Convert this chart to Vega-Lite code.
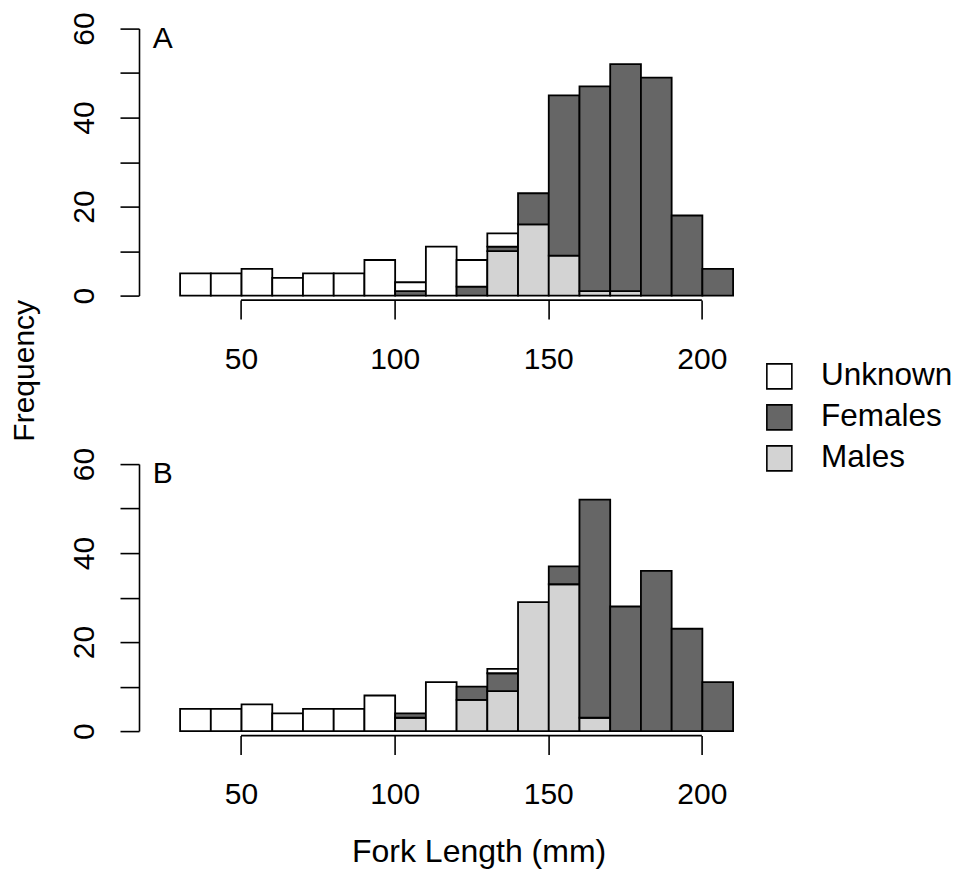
{
  "$schema": "https://vega.github.io/schema/vega-lite/v6.json",
  "padding": {"left": 8.6, "top": 11.6, "right": 2, "bottom": 2},
  "bounds": "flush",
  "spacing": 168.5,
  "background": "white",
  "config": {
    "font": "Liberation Sans",
    "view": {"stroke": null},
    "axis": {
      "grid": false,
      "domainColor": "black",
      "domainWidth": 1.6,
      "tickColor": "black",
      "tickWidth": 1.6,
      "tickSize": 19,
      "labelColor": "black",
      "labelFontSize": 30,
      "labelFont": "Liberation Sans",
      "titleFont": "Liberation Sans",
      "titleFontSize": 30,
      "titleFontWeight": "normal",
      "titleColor": "black",
      "labelFlush": false,
      "labelOverlap": false
    }
  },
  "datasets": {
    "hist": [
      {"panel": "A", "lo": 30, "hi": 40, "sex": "Unknown", "n": 5},
      {"panel": "A", "lo": 40, "hi": 50, "sex": "Unknown", "n": 5},
      {"panel": "A", "lo": 50, "hi": 60, "sex": "Unknown", "n": 6},
      {"panel": "A", "lo": 60, "hi": 70, "sex": "Unknown", "n": 4},
      {"panel": "A", "lo": 70, "hi": 80, "sex": "Unknown", "n": 5},
      {"panel": "A", "lo": 80, "hi": 90, "sex": "Unknown", "n": 5},
      {"panel": "A", "lo": 90, "hi": 100, "sex": "Unknown", "n": 8},
      {"panel": "A", "lo": 100, "hi": 110, "sex": "Females", "n": 1},
      {"panel": "A", "lo": 100, "hi": 110, "sex": "Unknown", "n": 2},
      {"panel": "A", "lo": 110, "hi": 120, "sex": "Unknown", "n": 11},
      {"panel": "A", "lo": 120, "hi": 130, "sex": "Females", "n": 2},
      {"panel": "A", "lo": 120, "hi": 130, "sex": "Unknown", "n": 6},
      {"panel": "A", "lo": 130, "hi": 140, "sex": "Males", "n": 10},
      {"panel": "A", "lo": 130, "hi": 140, "sex": "Females", "n": 1},
      {"panel": "A", "lo": 130, "hi": 140, "sex": "Unknown", "n": 3},
      {"panel": "A", "lo": 140, "hi": 150, "sex": "Males", "n": 16},
      {"panel": "A", "lo": 140, "hi": 150, "sex": "Females", "n": 7},
      {"panel": "A", "lo": 150, "hi": 160, "sex": "Males", "n": 9},
      {"panel": "A", "lo": 150, "hi": 160, "sex": "Females", "n": 36},
      {"panel": "A", "lo": 160, "hi": 170, "sex": "Males", "n": 1},
      {"panel": "A", "lo": 160, "hi": 170, "sex": "Females", "n": 46},
      {"panel": "A", "lo": 170, "hi": 180, "sex": "Males", "n": 1},
      {"panel": "A", "lo": 170, "hi": 180, "sex": "Females", "n": 51},
      {"panel": "A", "lo": 180, "hi": 190, "sex": "Females", "n": 49},
      {"panel": "A", "lo": 190, "hi": 200, "sex": "Females", "n": 18},
      {"panel": "A", "lo": 200, "hi": 210, "sex": "Females", "n": 6},
      {"panel": "B", "lo": 30, "hi": 40, "sex": "Unknown", "n": 5},
      {"panel": "B", "lo": 40, "hi": 50, "sex": "Unknown", "n": 5},
      {"panel": "B", "lo": 50, "hi": 60, "sex": "Unknown", "n": 6},
      {"panel": "B", "lo": 60, "hi": 70, "sex": "Unknown", "n": 4},
      {"panel": "B", "lo": 70, "hi": 80, "sex": "Unknown", "n": 5},
      {"panel": "B", "lo": 80, "hi": 90, "sex": "Unknown", "n": 5},
      {"panel": "B", "lo": 90, "hi": 100, "sex": "Unknown", "n": 8},
      {"panel": "B", "lo": 100, "hi": 110, "sex": "Males", "n": 3},
      {"panel": "B", "lo": 100, "hi": 110, "sex": "Females", "n": 1},
      {"panel": "B", "lo": 110, "hi": 120, "sex": "Unknown", "n": 11},
      {"panel": "B", "lo": 120, "hi": 130, "sex": "Males", "n": 7},
      {"panel": "B", "lo": 120, "hi": 130, "sex": "Females", "n": 3},
      {"panel": "B", "lo": 130, "hi": 140, "sex": "Males", "n": 9},
      {"panel": "B", "lo": 130, "hi": 140, "sex": "Females", "n": 4},
      {"panel": "B", "lo": 130, "hi": 140, "sex": "Unknown", "n": 1},
      {"panel": "B", "lo": 140, "hi": 150, "sex": "Males", "n": 29},
      {"panel": "B", "lo": 150, "hi": 160, "sex": "Males", "n": 33},
      {"panel": "B", "lo": 150, "hi": 160, "sex": "Females", "n": 4},
      {"panel": "B", "lo": 160, "hi": 170, "sex": "Males", "n": 3},
      {"panel": "B", "lo": 160, "hi": 170, "sex": "Females", "n": 49},
      {"panel": "B", "lo": 170, "hi": 180, "sex": "Females", "n": 28},
      {"panel": "B", "lo": 180, "hi": 190, "sex": "Females", "n": 36},
      {"panel": "B", "lo": 190, "hi": 200, "sex": "Females", "n": 23},
      {"panel": "B", "lo": 200, "hi": 210, "sex": "Females", "n": 11}
    ]
  },
  "vconcat": [
    {
      "width": 553,
      "height": 267,
      "layer": [
        {
          "data": {"name": "hist"},
          "transform": [
            {"filter": "datum.panel === 'A'"},
            {"calculate": "indexof(['Males','Females','Unknown'], datum.sex)", "as": "stackrank"}
          ],
          "mark": {"type": "bar", "stroke": "black", "strokeWidth": 1.8, "binSpacing": 0, "orient": "vertical"},
          "encoding": {
            "x": {
              "field": "lo", "type": "quantitative", "bin": "binned",
              "scale": {"domain": [30, 210], "nice": false, "zero": false, "padding": 0},
              "axis": {"values": [50, 100, 150, 200], "domain": false, "offset": 4.5, "labelBaseline": "alphabetic", "labelPadding": 49, "title": null}
            },
            "x2": {"field": "hi"},
            "y": {
              "field": "n", "type": "quantitative", "stack": "zero",
              "scale": {"domain": [0, 60], "nice": false, "padding": 0},
              "axis": {
                "values": [0, 10, 20, 30, 40, 50, 60], "offset": 40.6,
                "labelAngle": 270, "labelAlign": "center", "labelBaseline": "alphabetic", "labelPadding": 26,
                "labelExpr": "datum.value % 20 === 0 ? datum.label : ''",
                "title": "Frequency", "titleAngle": 270, "titleAlign": "center", "titleBaseline": "alphabetic",
                "titleX": -105.5, "titleY": 341.7
              }
            },
            "color": {
              "field": "sex", "type": "nominal",
              "scale": {"domain": ["Unknown", "Females", "Males"], "range": ["#ffffff", "#666666", "#d3d3d3"]},
              "legend": {"orient": "none", "legendX": 584, "legendY": 332, "title": null, "symbolType": "square", "symbolSize": 625, "symbolStrokeColor": "black", "symbolStrokeWidth": 1.6, "symbolOpacity": 1, "labelFontSize": 31.5, "labelFont": "Liberation Sans", "labelColor": "black", "labelOffset": 26, "rowPadding": 8, "padding": 0}
            },
            "order": {"field": "stackrank", "type": "quantitative"}
          }
        },
        {
          "data": {"values": [{"label": "A"}]},
          "mark": {"type": "text", "align": "left", "baseline": "alphabetic", "fontSize": 30, "font": "Liberation Sans", "color": "black", "dy": 19},
          "encoding": {
            "x": {"datum": 21.3, "type": "quantitative"},
            "y": {"datum": 60, "type": "quantitative"},
            "text": {"field": "label"}
          }
        },
        {
          "data": {"values": [{"label": "axis"}]},
          "mark": {"type": "rule", "color": "black", "strokeWidth": 1.6, "yOffset": 4.5},
          "encoding": {
            "x": {"datum": 50, "type": "quantitative"},
            "x2": {"datum": 200},
            "y": {"datum": 0, "type": "quantitative"}
          }
        }
      ]
    },
    {
      "width": 553,
      "height": 267,
      "layer": [
        {
          "data": {"name": "hist"},
          "transform": [
            {"filter": "datum.panel === 'B'"},
            {"calculate": "indexof(['Males','Females','Unknown'], datum.sex)", "as": "stackrank"}
          ],
          "mark": {"type": "bar", "stroke": "black", "strokeWidth": 1.8, "binSpacing": 0, "orient": "vertical"},
          "encoding": {
            "x": {
              "field": "lo", "type": "quantitative", "bin": "binned",
              "scale": {"domain": [30, 210], "nice": false, "zero": false, "padding": 0},
              "axis": {"values": [50, 100, 150, 200], "domain": false, "offset": 4.5, "labelBaseline": "alphabetic", "labelPadding": 49,
                "title": "Fork Length (mm)", "titleFontSize": 32, "titleAlign": "center", "titleBaseline": "alphabetic", "titleX": 299, "titleY": 126}
            },
            "x2": {"field": "hi"},
            "y": {
              "field": "n", "type": "quantitative", "stack": "zero",
              "scale": {"domain": [0, 60], "nice": false, "padding": 0},
              "axis": {
                "values": [0, 10, 20, 30, 40, 50, 60], "offset": 40.6,
                "labelAngle": 270, "labelAlign": "center", "labelBaseline": "alphabetic", "labelPadding": 26,
                "labelExpr": "datum.value % 20 === 0 ? datum.label : ''",
                "title": null
              }
            },
            "color": {
              "field": "sex", "type": "nominal",
              "scale": {"domain": ["Unknown", "Females", "Males"], "range": ["#ffffff", "#666666", "#d3d3d3"]},
              "legend": {"orient": "none", "legendX": 584, "legendY": 332, "title": null, "symbolType": "square", "symbolSize": 625, "symbolStrokeColor": "black", "symbolStrokeWidth": 1.6, "symbolOpacity": 1, "labelFontSize": 31.5, "labelFont": "Liberation Sans", "labelColor": "black", "labelOffset": 26, "rowPadding": 8, "padding": 0}
            },
            "order": {"field": "stackrank", "type": "quantitative"}
          }
        },
        {
          "data": {"values": [{"label": "B"}]},
          "mark": {"type": "text", "align": "left", "baseline": "alphabetic", "fontSize": 30, "font": "Liberation Sans", "color": "black", "dy": 19},
          "encoding": {
            "x": {"datum": 21.3, "type": "quantitative"},
            "y": {"datum": 60, "type": "quantitative"},
            "text": {"field": "label"}
          }
        },
        {
          "data": {"values": [{"label": "axis"}]},
          "mark": {"type": "rule", "color": "black", "strokeWidth": 1.6, "yOffset": 4.5},
          "encoding": {
            "x": {"datum": 50, "type": "quantitative"},
            "x2": {"datum": 200},
            "y": {"datum": 0, "type": "quantitative"}
          }
        }
      ]
    }
  ]
}
